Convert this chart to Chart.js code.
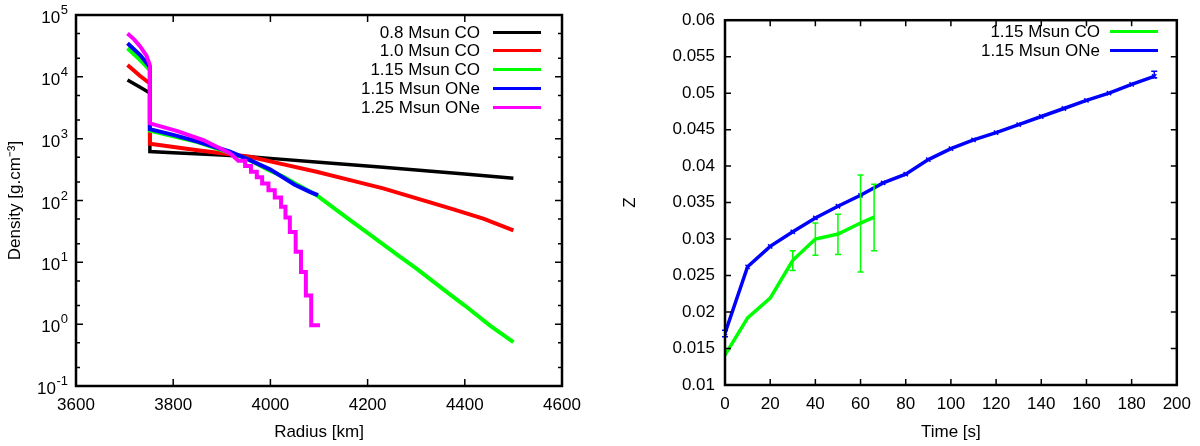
<!DOCTYPE html>
<html>
<head>
<meta charset="utf-8">
<title>Density profiles and metallicity</title>
<script src="https://cdn.jsdelivr.net/npm/chart.js@4.4.1/dist/chart.umd.min.js"></script>
<style>
  html, body { margin: 0; padding: 0; background: #fff; }
  #page { position: relative; width: 1200px; height: 446px; overflow: hidden;
          font-family: "Liberation Sans", Arial, Helvetica, sans-serif; font-size: 17px; color: #000; }
  .panel { position: absolute; top: 0; width: 600px; height: 446px; }
  .leg-text { position: absolute; height: 19px; line-height: 19px; white-space: nowrap; }
  .leg-line { position: absolute; height: 3px; }
</style>
</head>
<body>
<div id="page">
  <div class="panel" style="left:0"><canvas id="chart-density"></canvas></div>
  <div class="panel" style="left:600px"><canvas id="chart-z"></canvas></div>
</div>
<script>
// --- Panel izquierdo: perfiles de densidad (radio en km, densidad en g/cm^3)
const rBlack   = [3706, 3732, 3752, 3752, 3800, 3900, 3958, 4000, 4100, 4232, 4300, 4400, 4500];
const rhoBlack = [8900, 6800, 5500, 620, 593, 543, 509, 480, 417, 344, 312, 268, 228];

const rRed   = [3706, 3732, 3752, 3752, 3850, 3958, 4027, 4095, 4164, 4232, 4301, 4370, 4438, 4500];
const rhoRed = [15500, 10300, 7800, 830, 650, 509, 384, 291, 214, 157, 108, 74.5, 51, 33];

const rGreen   = [3706, 3732, 3752, 3752, 3850, 3950, 4000, 4027, 4050, 4095, 4164, 4200, 4239, 4267, 4300, 4370, 4400, 4452, 4500];
const rhoGreen = [29000, 18700, 12900, 1350, 880, 480, 300, 242, 190, 122, 48, 30, 17.8, 12.3, 8, 3.0, 2.0, 0.95, 0.51];

const rBlue   = [3706, 3732, 3752, 3752, 3800, 3850, 3917, 3958, 4000, 4050, 4081, 4098];
const rhoBlue = [35000, 22500, 14500, 1420, 1150, 900, 615, 450, 316, 180, 138, 122];

const rMag   = [3706, 3720, 3732, 3745, 3752, 3752, 3807, 3862, 3896, 3917, 3934,
                3948, 3948, 3960, 3960, 3972, 3972, 3983, 3983, 3996, 3996, 4009, 4009,
                4022, 4022, 4031, 4031, 4040, 4040, 4052, 4052, 4063, 4063, 4073, 4073,
                4084, 4084, 4102];
const rhoMag = [50000, 40000, 31000, 22000, 15500, 1770, 1340, 950, 700, 580, 439,
                439, 360, 360, 292, 292, 237, 237, 189, 189, 147, 147, 112,
                112, 79, 79, 53, 53, 31, 31, 14.8, 14.8, 7.0, 7.0, 2.9,
                2.9, 0.96, 0.96];

const densLabels = ['0.8 Msun CO', '1.0 Msun CO', '1.15 Msun CO', '1.15 Msun ONe', '1.25 Msun ONe'];
const densSeries = [[rBlack, rhoBlack], [rRed, rhoRed], [rGreen, rhoGreen], [rBlue, rhoBlue], [rMag, rhoMag]];

const radiusTicks = [3600, 3800, 4000, 4200, 4400, 4600];
const densityTicks = [0.1, 1, 10, 100, 1000, 10000, 100000];
const densityExp = ['-1', '0', '1', '2', '3', '4', '5'];   // etiquetas 10^n
const densityMinor = [0.2, 0.5, 2, 5, 20, 50, 200, 500, 2000, 5000, 20000, 50000];

// --- Panel derecho: metalicidad Z vs tiempo
const tCO   = [0, 10, 20, 30, 40, 50, 60, 66];
const zCO   = [0.0141, 0.0192, 0.0219, 0.0271, 0.0300, 0.0307, 0.0322, 0.0330];
const zCOLo = [null, null, null, 0.0257, 0.0278, 0.0279, 0.0255, 0.0284];
const zCOHi = [null, null, null, 0.0284, 0.0322, 0.0334, 0.0388, 0.0375];

const tONe   = [0, 10, 20, 30, 40, 50, 60, 70, 80, 90, 100, 110, 120, 130, 140, 150, 160, 170, 180, 190];
const zONe   = [0.0171, 0.0262, 0.0290, 0.0310, 0.0329, 0.0345, 0.0360, 0.0377, 0.0389, 0.0409,
                0.0424, 0.0436, 0.0446, 0.0457, 0.0468, 0.0479, 0.0490, 0.0500, 0.0512, 0.0523];
const zONeLo = [0.0166, null, null, null, null, null, null, null, null, null,
                null, null, null, null, null, null, null, null, null, 0.0521];
const zONeHi = [0.0175, null, null, null, null, null, null, null, null, null,
                null, null, null, null, null, null, null, null, null, 0.0530];

const zLabels = ['1.15 Msun CO', '1.15 Msun ONe'];
const timeTicks = [0, 20, 40, 60, 80, 100, 120, 140, 160, 180, 200];
const zTicks = [0.01, 0.015, 0.02, 0.025, 0.03, 0.035, 0.04, 0.045, 0.05, 0.055, 0.06];
const zTickLabels = ['0.01', '0.015', '0.02', '0.025', '0.03', '0.035', '0.04', '0.045', '0.05', '0.055', '0.06'];

// Colores gnuplot
const densColors = ['#000000', '#ff0000', '#00ff00', '#0000ff', '#ff00ff'];
const zColors = ['#00ff00', '#0000ff'];

const FONT = '"Liberation Sans", Arial, Helvetica, sans-serif';
Chart.defaults.font.family = FONT;
Chart.defaults.font.size = 17;
Chart.defaults.color = '#000';

const pts = (xs, ys) => xs.map((x, i) => ({ x: x, y: ys[i] }));

// Barras de error verticales con remate
const errorBars = {
  id: 'errorBars',
  afterDatasetsDraw(chart) {
    const { ctx } = chart;
    const sy = chart.scales.y;
    ctx.save();
    chart.data.datasets.forEach((ds, i) => {
      if (!ds.errLo) return;
      const meta = chart.getDatasetMeta(i);
      ctx.strokeStyle = ds.borderColor;
      ctx.lineWidth = 1.5;
      ctx.beginPath();
      meta.data.forEach((pt, j) => {
        if (ds.errLo[j] == null) return;
        const y0 = sy.getPixelForValue(ds.errLo[j]);
        const y1 = sy.getPixelForValue(ds.errHi[j]);
        ctx.moveTo(pt.x, y0); ctx.lineTo(pt.x, y1);
        ctx.moveTo(pt.x - 3, y0); ctx.lineTo(pt.x + 3, y0);
        ctx.moveTo(pt.x - 3, y1); ctx.lineTo(pt.x + 3, y1);
      });
      ctx.stroke();
    });
    ctx.restore();
  }
};

// Marco y marcas hacia dentro, estilo gnuplot
const frameTicks = {
  id: 'frameTicks',
  afterDatasetsDraw(chart, args, o) {
    const { ctx, chartArea: a } = chart;
    const sx = chart.scales.x, sy = chart.scales.y;
    ctx.save();
    ctx.strokeStyle = '#000';
    ctx.lineWidth = 1.5;
    ctx.beginPath();
    o.xMajor.forEach(v => {
      const p = sx.getPixelForValue(v);
      ctx.moveTo(p, a.bottom); ctx.lineTo(p, a.bottom - o.major);
      ctx.moveTo(p, a.top); ctx.lineTo(p, a.top + o.major);
    });
    const tickY = (vals, len) => vals.forEach(v => {
      const p = sy.getPixelForValue(v);
      ctx.moveTo(a.left, p); ctx.lineTo(a.left + len, p);
      ctx.moveTo(a.right, p); ctx.lineTo(a.right - len, p);
    });
    tickY(o.yMajor, o.major);
    tickY(o.yMinor || [], o.minor);
    ctx.stroke();
    ctx.lineWidth = 2.5;
    ctx.strokeRect(a.left, a.top, a.right - a.left, a.bottom - a.top);
    ctx.restore();
  }
};

// Etiquetas 10^n con exponente elevado (eje log)
const powerLabels = {
  id: 'powerLabels',
  afterDraw(chart, args, o) {
    if (!o.values) return;
    const { ctx, chartArea: a } = chart;
    const sy = chart.scales.y;
    ctx.save();
    ctx.fillStyle = '#000';
    ctx.textBaseline = 'alphabetic';
    ctx.textAlign = 'right';
    o.values.forEach((v, i) => {
      const p = sy.getPixelForValue(v);
      const xr = a.left - 8;
      ctx.font = '13px ' + FONT;
      const ew = ctx.measureText(o.exps[i]).width;
      ctx.fillText(o.exps[i], xr, p - 1);
      ctx.font = '17px ' + FONT;
      ctx.fillText('10', xr - ew - 0.5, p + 8);
    });
    ctx.restore();
  }
};

function axisX(min, max, ticks, title, height) {
  return {
    type: 'linear', min: min, max: max,
    grid: { display: false, drawTicks: false }, border: { display: false },
    afterBuildTicks: s => { s.ticks = ticks.map(v => ({ value: v })); },
    afterFit: s => { s.height = height; },
    ticks: { padding: 9, maxRotation: 0, autoSkip: false, callback: v => String(v) },
    title: { display: true, text: title, padding: { top: 0, bottom: 3 } }
  };
}

// 1. Densidad vs radio (log)
new Chart(document.getElementById('chart-density'), {
  type: 'line',
  data: {
    datasets: densSeries.map((s, i) => ({
      label: densLabels[i],
      data: pts(s[0], s[1]),
      borderColor: densColors[i],
      borderWidth: i === 0 ? 3.5 : 4,
      pointRadius: 0,
      fill: false,
      order: densSeries.length - i
    }))
  },
  options: {
    responsive: true, maintainAspectRatio: false, animation: false,
    layout: { padding: { top: 15, right: 38, left: 0, bottom: 0 } },
    plugins: {
      legend: { display: false }, tooltip: { enabled: false },
      frameTicks: { xMajor: radiusTicks.slice(1, -1), yMajor: densityTicks.slice(1, -1), yMinor: densityMinor, major: 7, minor: 4 },
      powerLabels: { values: densityTicks, exps: densityExp }
    },
    scales: {
      x: axisX(3600, 4600, radiusTicks, 'Radius [km]', 60),
      y: {
        type: 'logarithmic', min: 0.1, max: 100000,
        grid: { display: false, drawTicks: false }, border: { display: false },
        afterBuildTicks: s => { s.ticks = densityTicks.map(v => ({ value: v })); },
        afterFit: s => { s.width = 76; },
        ticks: { display: false },
        title: { display: true, text: 'Density [g.cm⁻³]', padding: { top: 5, bottom: 0 } }
      }
    }
  },
  plugins: [frameTicks, powerLabels]
});

// 2. Z vs tiempo, con barras de error
new Chart(document.getElementById('chart-z'), {
  type: 'line',
  data: {
    datasets: [
      { label: zLabels[0], data: pts(tCO, zCO), errLo: zCOLo, errHi: zCOHi,
        borderColor: zColors[0], borderWidth: 3.5, pointRadius: 0, fill: false },
      { label: zLabels[1], data: pts(tONe, zONe), errLo: zONeLo, errHi: zONeHi,
        borderColor: zColors[1], borderWidth: 3.5, fill: false,
        pointStyle: 'crossRot', pointRadius: 3, pointBorderWidth: 1.5, pointBorderColor: zColors[1] }
    ]
  },
  options: {
    responsive: true, maintainAspectRatio: false, animation: false,
    layout: { padding: { top: 15, right: 21, left: 0, bottom: 0 } },
    plugins: {
      legend: { display: false }, tooltip: { enabled: false },
      frameTicks: { xMajor: timeTicks.slice(1, -1), yMajor: zTicks.slice(1, -1), major: 6, minor: 3 }
    },
    scales: {
      x: axisX(0, 200, timeTicks, 'Time [s]', 61),
      y: {
        type: 'linear', min: 0.01, max: 0.06,
        grid: { display: false, drawTicks: false }, border: { display: false },
        afterBuildTicks: s => { s.ticks = zTicks.map(v => ({ value: v })); },
        afterFit: s => { s.width = 125; },
        ticks: { padding: 10, autoSkip: false, callback: (v, i) => zTickLabels[i] },
        title: { display: true, text: 'Z', padding: { top: 20, bottom: 0 } }
      }
    }
  },
  plugins: [errorBars, frameTicks]
});

// Leyendas (texto alineado a la derecha, muestra de línea a la derecha)
function legend(labels, colors, textRight, lineLeft, lineRight, firstY, rowH) {
  const page = document.getElementById('page');
  labels.forEach((lab, i) => {
    const y = firstY + i * rowH;
    const t = document.createElement('div');
    t.className = 'leg-text';
    t.textContent = lab;
    t.style.right = (1200 - textRight) + 'px';
    t.style.top = (y - 9.5) + 'px';
    page.appendChild(t);
    const l = document.createElement('div');
    l.className = 'leg-line';
    l.style.left = lineLeft + 'px';
    l.style.width = (lineRight - lineLeft) + 'px';
    l.style.top = (y - 1.5) + 'px';
    l.style.background = colors[i];
    page.appendChild(l);
  });
}
legend(densLabels, densColors, 480, 493, 541, 32, 18.75);
legend(zLabels, zColors, 1100, 1110, 1158, 31, 19);
</script>
</body>
</html>
